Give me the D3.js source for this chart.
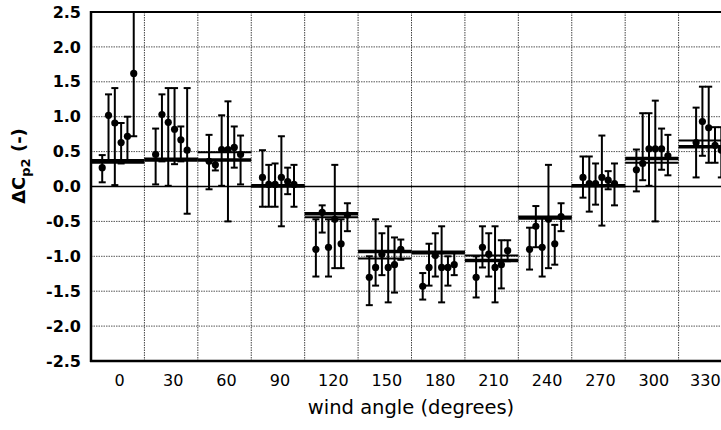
<!DOCTYPE html>
<html><head><meta charset="utf-8">
<script src="https://cdn.jsdelivr.net/npm/d3@7"></script>
<style>body{margin:0;background:#fff}svg{display:block}</style>
</head><body>
<script>
const angles = [0,30,60,90,120,150,180,210,240,270,300,330];
const yTicks = [-2.5,-2.0,-1.5,-1.0,-0.5,0.0,0.5,1.0,1.5,2.0,2.5];
// point values per wind angle (6 runs per angle)
const pointValues = [
  [0.27,1.02,0.91,0.63,0.72,1.62],
  [0.46,1.03,0.92,0.82,0.67,0.52],
  [0.36,0.31,0.53,0.53,0.56,0.46],
  [0.13,0.03,0.03,0.13,0.07,0.03],
  [-0.90,-0.37,-0.87,-0.47,-0.82,-0.41],
  [-1.30,-1.16,-0.97,-1.16,-1.12,-0.90],
  [-1.43,-1.16,-0.99,-1.16,-1.16,-1.12],
  [-1.30,-0.87,-0.97,-1.16,-1.12,-0.92],
  [-0.90,-0.57,-0.87,-0.47,-0.82,-0.43],
  [0.13,0.04,0.04,0.13,0.09,0.04],
  [0.24,0.33,0.54,0.54,0.54,0.44],
  [null,0.63,0.93,0.84,0.59,0.52]
];
const upperValues = [
  [0.45,1.32,1.41,0.91,1.00,2.50],
  [0.83,1.32,1.41,1.41,0.86,1.41],
  [0.74,0.38,1.02,1.22,0.86,0.73],
  [0.52,0.31,0.33,0.72,0.27,0.31],
  [-0.47,-0.27,-0.47,0.31,-0.47,-0.24],
  [-1.00,-0.47,-0.67,-0.57,-0.73,-0.76],
  [-1.24,-0.82,-0.67,-0.57,-1.00,-0.95],
  [-1.00,-0.57,-0.67,-0.57,-0.77,-0.77],
  [-0.59,-0.28,-0.44,0.31,-0.55,-0.24],
  [0.43,0.43,0.33,0.73,0.22,0.33],
  [0.53,1.05,1.05,1.23,0.83,0.74],
  [null,1.13,1.43,1.43,0.85,0.85]
];
const lowerValues = [
  [0.06,0.38,0.02,0.33,0.37,0.72],
  [0.03,0.36,0.01,0.32,0.36,-0.39],
  [-0.04,0.23,0.01,-0.50,0.27,0.03],
  [-0.29,-0.29,-0.29,-0.57,-0.11,-0.29],
  [-1.29,-0.66,-1.29,-1.17,-1.17,-0.64],
  [-1.70,-1.42,-1.27,-1.66,-1.52,-1.05],
  [-1.62,-1.42,-1.29,-1.66,-1.42,-1.27],
  [-1.59,-1.16,-1.29,-1.66,-1.46,-1.07],
  [-1.19,-0.87,-1.29,-1.17,-1.12,-0.64],
  [-0.16,-0.36,-0.26,-0.56,-0.04,-0.27],
  [-0.07,0.09,0.01,-0.50,0.24,0.16],
  [null,0.13,0.44,0.34,0.34,0.13]
];
const meanThick = [0.35,0.38,0.38,0.01,-0.39,-0.93,-0.95,-1.06,-0.45,0.01,0.40,0.57];
const meanThin  = [0.38,0.40,0.49,0.00,-0.44,-1.03,-0.93,-0.99,-0.43,0.02,0.34,0.66];

const W = 721, H = 430;
const svg = d3.select("body").append("svg").attr("width", W).attr("height", H)
  .style("font-family", "'DejaVu Sans', Verdana, sans-serif");
svg.append("rect").attr("width", W).attr("height", H).attr("fill", "#fff");

const x = d3.scaleBand().domain(angles).range([91, 732]).padding(0);
const y = d3.scaleLinear().domain([-2.5, 2.5]).range([361, 12]);
const bw = x.bandwidth();
const inner = d3.scaleLinear().domain([0, 5]).range([0.21 * bw, 0.80 * bw]);

// grid
const grid = svg.append("g");
grid.selectAll("line.h").data(yTicks.filter(t => Math.abs(t) < 2.4 && t !== 0)).join("line")
  .attr("x1", 91).attr("x2", W).attr("y1", d => y(d)).attr("y2", d => y(d))
  .attr("stroke", "#555").attr("stroke-width", 1).attr("stroke-dasharray", "1.5,1");
grid.selectAll("line.v").data(angles.slice(1)).join("line")
  .attr("x1", d => x(d)).attr("x2", d => x(d)).attr("y1", 12).attr("y2", 361)
  .attr("stroke", "#444").attr("stroke-width", 1).attr("stroke-dasharray", "1.5,1");

// zero line and frame
svg.append("line").attr("x1", 91).attr("x2", W).attr("y1", y(0)).attr("y2", y(0))
  .attr("stroke", "#000").attr("stroke-width", 1.5);
svg.append("line").attr("x1", 91).attr("x2", W).attr("y1", y(2.5)).attr("y2", y(2.5))
  .attr("stroke", "#000").attr("stroke-width", 2);

// mean lines
const means = svg.append("g");
means.selectAll("line.a").data(angles).join("line")
  .attr("x1", d => x(d)).attr("x2", d => x(d) + bw)
  .attr("y1", (d, i) => y(meanThin[i])).attr("y2", (d, i) => y(meanThin[i]))
  .attr("stroke", "#000").attr("stroke-width", 2);
means.selectAll("line.b").data(angles).join("line")
  .attr("x1", d => x(d)).attr("x2", d => x(d) + bw)
  .attr("y1", (d, i) => y(meanThick[i])).attr("y2", (d, i) => y(meanThick[i]))
  .attr("stroke", "#000").attr("stroke-width", 3.5);

// error bars
const runs = [];
angles.forEach((a, i) => pointValues[i].forEach((v, j) => {
  if (v !== null) runs.push({a, j, v, hi: upperValues[i][j], lo: lowerValues[i][j]});
}));
const eb = svg.append("g").attr("stroke", "#000");
const cx = d => x(d.a) + inner(d.j);
eb.selectAll("line.s").data(runs).join("line")
  .attr("x1", cx).attr("x2", cx).attr("y1", d => y(d.hi)).attr("y2", d => y(d.lo))
  .attr("stroke-width", 2);
eb.selectAll("line.t").data(runs).join("line")
  .attr("x1", d => cx(d) - 3.5).attr("x2", d => cx(d) + 3.5)
  .attr("y1", d => y(d.hi)).attr("y2", d => y(d.hi)).attr("stroke-width", 2);
eb.selectAll("line.b").data(runs).join("line")
  .attr("x1", d => cx(d) - 3.5).attr("x2", d => cx(d) + 3.5)
  .attr("y1", d => y(d.lo)).attr("y2", d => y(d.lo)).attr("stroke-width", 2);
svg.append("g").selectAll("circle").data(runs).join("circle")
  .attr("cx", cx).attr("cy", d => y(d.v)).attr("r", 3.6).attr("fill", "#000");

// axes lines
svg.append("line").attr("x1", 91).attr("x2", 91).attr("y1", 11).attr("y2", 362)
  .attr("stroke", "#000").attr("stroke-width", 2.5);
svg.append("line").attr("x1", 90).attr("x2", W).attr("y1", 361).attr("y2", 361)
  .attr("stroke", "#000").attr("stroke-width", 2.5);

// y axis labels
const fmt = d => d3.format(".1f")(d).replace("\u2212", "-");
const yAxis = svg.append("g").attr("transform", "translate(91,0)")
  .call(d3.axisLeft(y).tickValues(yTicks).tickSize(0).tickPadding(10).tickFormat(fmt));
yAxis.select(".domain").remove();
yAxis.selectAll("text").attr("font-size", 16).attr("font-weight", "bold")
  .attr("font-family", "'DejaVu Sans', Verdana, sans-serif").attr("fill", "#000");

// x axis labels
const xAxis = svg.append("g").attr("transform", "translate(2,361)")
  .call(d3.axisBottom(x).tickSize(0).tickPadding(14));
xAxis.select(".domain").remove();
xAxis.selectAll("text").attr("font-size", 16)
  .attr("font-family", "'DejaVu Sans', Verdana, sans-serif").attr("fill", "#000");
xAxis.selectAll(".tick").filter(d => d === 330).select("text").attr("dx", -2);

// titles
svg.append("text").attr("x", 411).attr("y", 414).attr("text-anchor", "middle")
  .attr("font-size", 19.5).attr("fill", "#000").text("wind angle (degrees)");
const yt = svg.append("text").attr("transform", "translate(25,166) rotate(-90)")
  .attr("text-anchor", "middle").attr("font-size", 18).attr("font-weight", "bold").attr("fill", "#000");
yt.append("tspan").text("ΔC");
yt.append("tspan").attr("font-size", 13).attr("dy", 5).text("p2");
yt.append("tspan").attr("dy", -5).text(" (-)");
</script>
</body></html>
